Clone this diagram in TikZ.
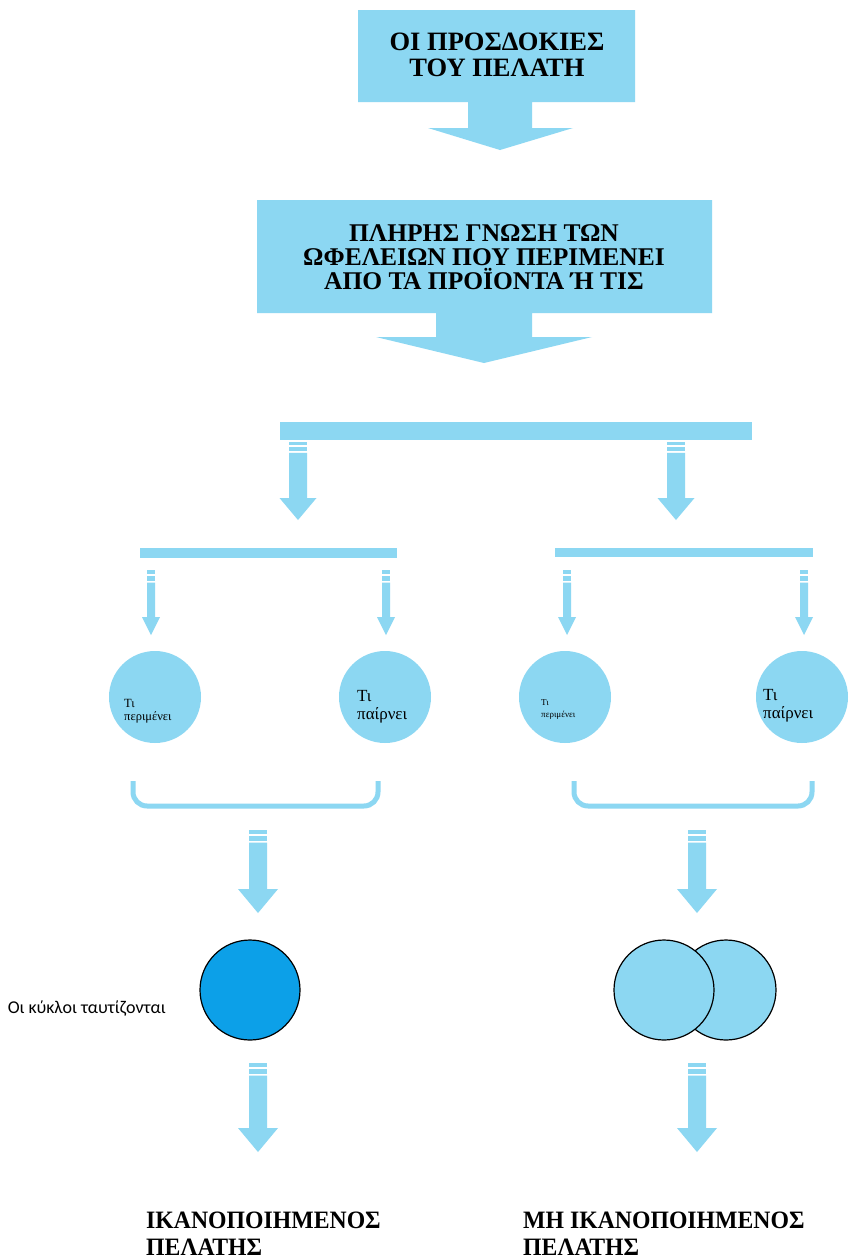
\documentclass[tikz,border=0pt]{standalone}
\usepackage{fontspec}
\usepackage{graphicx}
\setmainfont{Liberation Serif}
\newfontfamily\calibfont{Carlito}
\definecolor{lb}{RGB}{140,215,242}
\definecolor{db}{RGB}{12,160,232}
% striped block arrow: x, top y, tip y, stem width, head width, head length, stripe unit
\newcommand\sarr[7]{%
  \fill[lb] ({#1-#4/2},{#2}) rectangle ({#1+#4/2},{#2+#7});
  \fill[lb] ({#1-#4/2},{#2+1.6*#7}) rectangle ({#1+#4/2},{#2+3*#7});
  \fill[lb] ({#1-#4/2},{#2+3.6*#7}) -- ({#1-#4/2},{#3-#6}) -- ({#1-#5/2},{#3-#6}) -- (#1,#3)
     -- ({#1+#5/2},{#3-#6}) -- ({#1+#4/2},{#3-#6}) -- ({#1+#4/2},{#2+3.6*#7}) -- cycle;}
\tikzset{
  boxtext/.style={font=\bfseries\fontsize{26}{25}\selectfont, align=center, inner sep=0pt},
  bigtext/.style={font=\bfseries\fontsize{25}{27}\selectfont, align=left, inner sep=0pt, anchor=west},
  disc/.style={circle, fill=lb, minimum size=92pt, inner sep=0pt},
  ring/.style={circle, draw=black, line width=1.2pt, minimum size=100pt, inner sep=0pt},
  ctext/.style={align=left, inner sep=0pt, anchor=west},
  bar/.style={fill=lb},
  brace/.style={draw=lb, line width=5pt, rounded corners=14pt}
}
\begin{document}
\begin{tikzpicture}[x=1pt,y=-1pt]
\fill[white] (0,0) rectangle (850,1259);
\path[use as bounding box] (0,0) rectangle (850,1259);

% box 1 with arrow
\fill[lb] (358,10) -- (635,10) -- (635,102) -- (532,102) -- (532,128) -- (573,128) -- (500,150)
  -- (428,128) -- (468,128) -- (468,102) -- (358,102) -- cycle;
\node[boxtext, font=\bfseries\fontsize{26.5}{26}\selectfont] (t1) at (497,55) {ΟΙ ΠΡΟΣΔΟΚΙΕΣ\\ΤΟΥ ΠΕΛΑΤΗ};

% box 2 with arrow
\fill[lb] (257,200) -- (712,200) -- (712,313) -- (532,313) -- (532,337) -- (592,337) -- (484,363)
  -- (376,337) -- (436,337) -- (436,313) -- (257,313) -- cycle;
\node[boxtext, font=\bfseries\fontsize{25.5}{24}\selectfont] (t2) at (484,257) {ΠΛΗΡΗΣ ΓΝΩΣΗ ΤΩΝ\\ΩΦΕΛΕΙΩΝ ΠΟΥ ΠΕΡΙΜΕΝΕΙ\\ΑΠΟ ΤΑ ΠΡΟΪΟΝΤΑ Ή ΤΙΣ};

% bar 1 and its arrows
\fill[bar] (280,422) rectangle (752,440);
\sarr{298}{442}{520}{18}{37}{22}{3}
\sarr{676}{442}{520}{18}{37}{22}{3}

% bars 2
\fill[bar] (140,548) rectangle (397,558);
\fill[bar] (555,548) rectangle (813,557);
\sarr{151}{570}{635}{8}{18}{18}{3.5}
\sarr{386}{570}{635}{8}{18}{18}{3.5}
\sarr{567}{570}{635}{8}{18}{18}{3.5}
\sarr{804}{570}{635}{8}{18}{18}{3.5}

% circles
\node[disc] (c1) at (155,697) {};
\node[disc] (c2) at (385,697) {};
\node[disc] (c3) at (565,697) {};
\node[disc] (c4) at (802,697) {};
\node[ctext, font=\fontsize{12.5}{13}\selectfont] (c1t) at (124,711) {Τι\\περιμένει};
\node[ctext, font=\fontsize{17}{18}\selectfont] (c2t) at (357,707) {Τι\\παίρνει};
\node[ctext, font=\fontsize{9}{12}\selectfont] (c3t) at (541,710) {Τι\\περιμένει};
\node[ctext, font=\fontsize{17}{18}\selectfont] (c4t) at (763,706) {Τι\\παίρνει};

% brackets
\draw[brace] (133,781) -- (133,806) -- (378,806) -- (378,781);
\draw[brace] (574,781) -- (574,806) -- (812,806) -- (812,781);
\sarr{258}{830}{913}{18}{40}{24}{3.5}
\sarr{697}{830}{913}{18}{40}{24}{3.5}

% result circles
\node[ring, fill=db] (d1) at (250,990) {};
\node[ring, fill=lb] (v2) at (726,990) {};
\node[ring, fill=lb] (v1) at (664,990) {};
\node[anchor=base east, inner sep=0pt, font=\calibfont\fontsize{18}{20}\selectfont] (lbl) at (166,1013) {Οι κύκλοι ταυτίζονται};

\sarr{258}{1063}{1152}{18}{40}{24}{3.5}
\sarr{697}{1063}{1152}{18}{40}{24}{3.5}

% final labels
\node[bigtext] (r1) at (146,1234) {\scalebox{0.95}[1]{ΙΚΑΝΟΠΟΙΗΜΕΝΟΣ}\\\scalebox{0.95}[1]{ΠΕΛΑΤΗΣ}};
\node[bigtext] (r2) at (523,1234) {\scalebox{0.95}[1]{ΜΗ ΙΚΑΝΟΠΟΙΗΜΕΝΟΣ}\\\scalebox{0.95}[1]{ΠΕΛΑΤΗΣ}};
\end{tikzpicture}
\end{document}
